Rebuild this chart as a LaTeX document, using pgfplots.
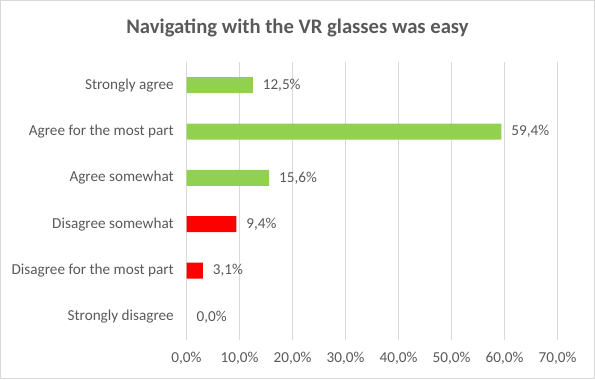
\documentclass[border=0pt]{standalone}
\usepackage{pgfplots}
\pgfplotsset{compat=1.18}
\usepackage{fontspec}
\setmainfont{Carlito}
\definecolor{txt}{HTML}{595959}
\definecolor{gridc}{HTML}{D9D9D9}
\definecolor{gr}{HTML}{92D050}
\definecolor{rd}{HTML}{FF0000}
\begin{document}
\begin{tikzpicture}[x=0.75pt,y=0.75pt]
\draw[gridc, line width=0.75pt] (0.5,0.5) rectangle (594.5,378.5);
\useasboundingbox (0,0) rectangle (595,379);
\node[txt, font=\bfseries\fontsize{15.5}{18}\selectfont] at (297.5,351) {Navigating with the VR glasses was easy};
\begin{axis}[
  at={(139.875pt,29.25pt)}, anchor=south west,
  scale only axis, width=278.25pt, height=208.5pt,
  xmin=0, xmax=70, ymin=-0.5, ymax=5.5,
  xtick={0,10,...,70}, ytick={0,...,5},
  yticklabels={Strongly disagree, Disagree for the most part, Disagree somewhat, Agree somewhat, Agree for the most part, Strongly agree},
  xticklabel={\pgfmathprintnumber[fixed,fixed zerofill,precision=1,use comma]{\tick}\%},
  /pgf/number format/assume math mode=true,
  xmajorgrids, grid style={gridc, line width=0.75pt},
  axis line style={draw=none}, major tick length=0pt,
  tick label style={txt, font=\fontsize{11.4}{13}\selectfont},
  xticklabel style={yshift=-5.5pt},
  yticklabel style={xshift=-6pt},
  xbar, bar width=12pt, bar shift=0pt,
  nodes near coords={\pgfmathprintnumber[fixed,fixed zerofill,precision=1,use comma]{\pgfplotspointmeta}\%},
  every node near coord/.append style={txt, font=\fontsize{11.4}{13}\selectfont, anchor=west, xshift=4pt},
]
\addplot[fill=gr, draw=none] coordinates {(12.5,5) (59.4,4) (15.6,3)};
\addplot[fill=rd, draw=none] coordinates {(9.4,2) (3.1,1)};
\addplot[fill=none, draw=none] coordinates {(0,0)};
\end{axis}
\end{tikzpicture}
\end{document}
